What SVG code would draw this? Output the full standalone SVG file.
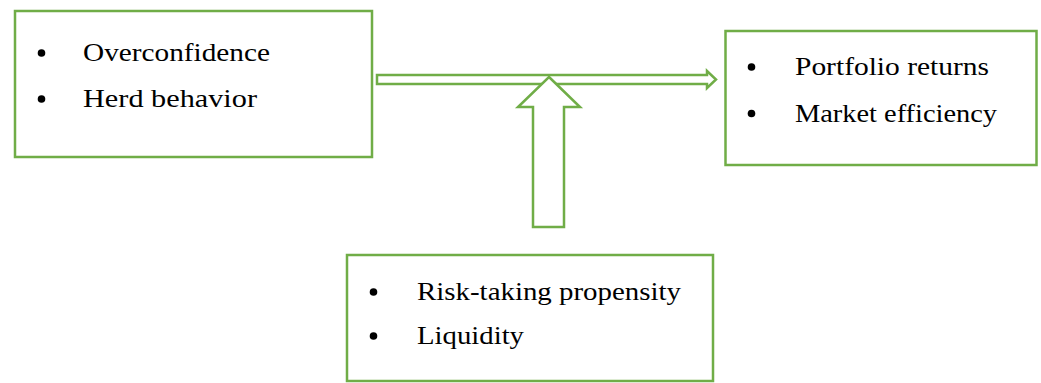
<svg xmlns="http://www.w3.org/2000/svg" width="1041" height="383" viewBox="0 0 1041 383">
<style>
.box{fill:#fff;stroke:#70ad47;stroke-width:2.5}
.arr{fill:#fff;stroke:#70ad47;stroke-width:2.5;stroke-linejoin:miter}
.t{font-family:"Liberation Serif","Times New Roman",serif;font-size:26px;fill:#000}
.b{fill:#000}
</style>
<rect width="1041" height="383" fill="#fff"/>
<g id="connectors">
<polygon class="arr" points="377,75 707,75 707,71 716,79.5 707,88 707,84 377,84"/>
<polygon class="arr" points="549,77 580,107 564,107 564,227 533,227 533,107 518,107"/>
</g>
<g id="node-drivers">
<rect class="box" x="15" y="11" width="357" height="146"/>
<circle class="b" cx="41.5" cy="53" r="3.8"/>
<text class="t" x="83" y="61" textLength="187" lengthAdjust="spacingAndGlyphs">Overconfidence</text>
<circle class="b" cx="41.5" cy="99" r="3.8"/>
<text class="t" x="83" y="107" textLength="174" lengthAdjust="spacingAndGlyphs">Herd behavior</text>
</g>
<g id="node-outcomes">
<rect class="box" x="725.5" y="31" width="311" height="134"/>
<circle class="b" cx="751.5" cy="67" r="3.8"/>
<text class="t" x="795" y="75" textLength="194" lengthAdjust="spacingAndGlyphs">Portfolio returns</text>
<circle class="b" cx="751.5" cy="113.5" r="3.8"/>
<text class="t" x="795" y="121.5" textLength="202" lengthAdjust="spacingAndGlyphs">Market efficiency</text>
</g>
<g id="node-moderators">
<rect class="box" x="347" y="255" width="366" height="126"/>
<circle class="b" cx="373.5" cy="292" r="3.8"/>
<text class="t" x="417" y="300" textLength="264" lengthAdjust="spacingAndGlyphs">Risk-taking propensity</text>
<circle class="b" cx="373.5" cy="336" r="3.8"/>
<text class="t" x="417" y="344" textLength="107" lengthAdjust="spacingAndGlyphs">Liquidity</text>
</g>
</svg>
